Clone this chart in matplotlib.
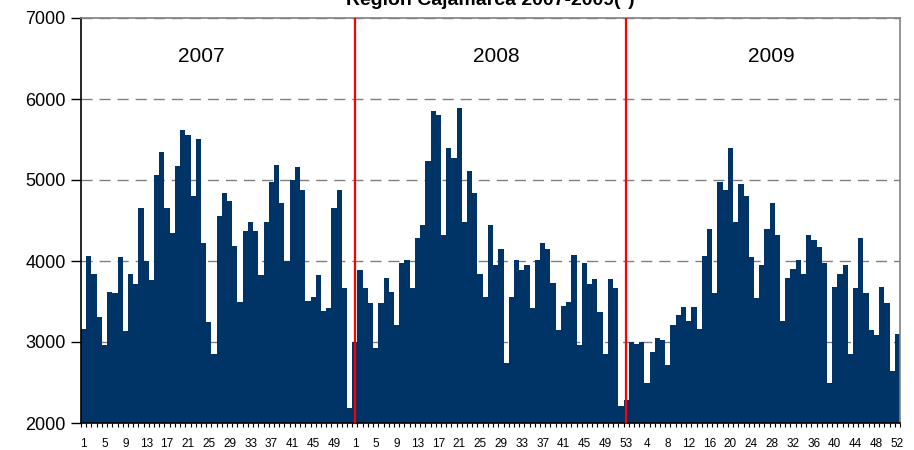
import numpy as np
import matplotlib
matplotlib.use('Agg')
import matplotlib.pyplot as plt

# weekly values
weeks_2007 = [3160, 4060, 3840, 3310, 2960, 3620, 3600, 4050, 3140, 3840, 3720, 4660, 4000,
              3760, 5060, 5340, 4660, 4340, 5170, 5620, 5550, 4800, 5510, 4220, 3250, 2850,
              4560, 4840, 4740, 4180, 3490, 4370, 4480, 4370, 3830, 4480, 4970, 5190, 4710,
              4000, 5000, 5160, 4880, 3510, 3560, 3830, 3380, 3420, 4650, 4880, 3670, 2190]
weeks_2008 = [3000, 3890, 3670, 3480, 2920, 3480, 3790, 3620, 3210, 3970, 4010, 3670, 4280,
              4450, 5230, 5850, 5800, 4320, 5400, 5270, 5890, 4480, 5110, 4840, 3840, 3560,
              4450, 3950, 4150, 2740, 3560, 4010, 3890, 3950, 3420, 4010, 4220, 4150, 3730,
              3150, 3440, 3490, 4070, 2960, 3970, 3720, 3780, 3370, 2850, 3780, 3670, 2210, 2290]
weeks_2009 = [3000, 2980, 3000, 2500, 2880, 3050, 3030, 2710, 3210, 3330, 3430, 3260, 3430,
              3160, 4060, 4390, 3600, 4970, 4880, 5400, 4480, 4950, 4800, 4050, 3540, 3950,
              4390, 4710, 4320, 3260, 3790, 3900, 4010, 3840, 4320, 4260, 4170, 3970, 2500,
              3680, 3840, 3950, 2850, 3670, 4290, 3600, 3150, 3090, 3680, 3480, 2640, 3100]
years = ['2007', '2008', '2009']
title = 'Region Cajamarca 2007-2009(*)'

values = weeks_2007 + weeks_2008 + weeks_2009
week_nums = (list(range(1, len(weeks_2007) + 1)) + list(range(1, len(weeks_2008) + 1))
             + list(range(1, len(weeks_2009) + 1)))
x = np.arange(len(values))

fig = plt.figure(figsize=(9.14, 4.5), dpi=100)
ax = fig.add_axes([81 / 914, 27 / 450, 819 / 914, 405 / 450])

ax.bar(x, np.array(values) - 2000, bottom=2000, width=1.0, color='#003366', zorder=2)

# year separators
ax.axvline(len(weeks_2007), color='#ff0000', lw=1.6, zorder=3)
ax.axvline(len(weeks_2007) + len(weeks_2008) - 1, color='#ff0000', lw=1.6, zorder=3)

year_x = [22.5, 79.1, 131.9]
for yx, yr in zip(year_x, years):
    ax.text(yx, 6530, yr, ha='center', va='center', fontsize=15, family='Liberation Sans')

ax.set_xlim(-0.5, len(values) - 0.5)
ax.set_ylim(2000, 7000)
ax.set_yticks(range(2000, 7001, 1000))
ax.set_yticklabels([str(v) for v in range(2000, 7001, 1000)], fontsize=13, family='Liberation Sans')
ax.yaxis.grid(True, linestyle=(0, (8, 5)), color='#808080', lw=1, zorder=1)
ax.set_axisbelow(True)

ax.set_xticks(x[::4])
ax.set_xticklabels([str(w) for w in week_nums[::4]], fontsize=8.5, family='Liberation Sans')
ax.set_xticks(np.arange(-0.5, len(values), 1), minor=True)
ax.tick_params(axis='x', which='major', length=0, pad=11)
ax.tick_params(axis='x', which='minor', length=3, width=0.8, direction='out')
ax.tick_params(axis='y', length=7, width=1, direction='out', pad=4)

ax.spines['left'].set_color('black')
ax.spines['bottom'].set_color('black')
ax.spines['top'].set_color('#808080')
ax.spines['right'].set_color('#808080')
for s in ax.spines.values():
    s.set_linewidth(1.2)

fig.text(490 / 914, 445 / 450, title, ha='center', va='baseline', fontsize=14,
         fontweight='bold', family='Liberation Sans')

fig.savefig('out.png', dpi=100)
